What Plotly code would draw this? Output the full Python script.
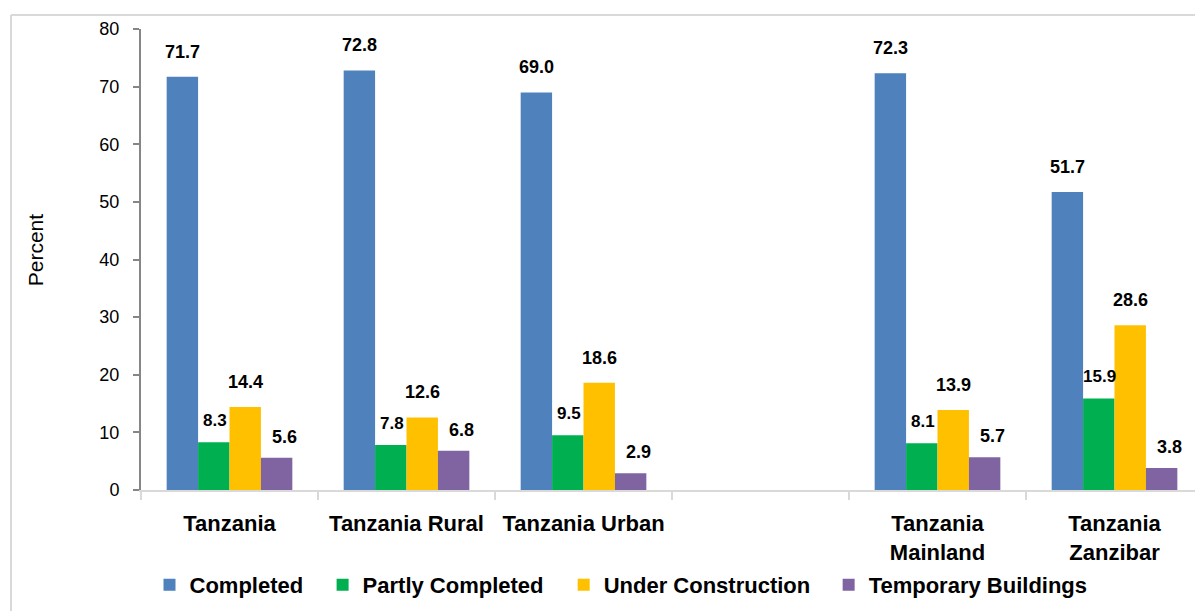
import plotly.graph_objects as go

categories = ["Tanzania", "Tanzania Rural", "Tanzania Urban", " ", "Tanzania<br>Mainland", "Tanzania<br>Zanzibar"]
series_names = ["Completed", "Partly Completed", "Under Construction", "Temporary Buildings"]
completed = [71.7, 72.8, 69.0, None, 72.3, 51.7]
partly_completed = [8.3, 7.8, 9.5, None, 8.1, 15.9]
under_construction = [14.4, 12.6, 18.6, None, 13.9, 28.6]
temporary_buildings = [5.6, 6.8, 2.9, None, 5.7, 3.8]

values = [completed, partly_completed, under_construction, temporary_buildings]
colors = ["#4F81BD", "#00B050", "#FFC000", "#8064A2"]
label_sizes = [18, 17, 18, 18]
label_shift = [25, 22, 25, 21]
label_xshift = [0, 1, 0, 8]
legend_x = [0.0080, 0.1710, 0.3980, 0.6475]

FONT = "Liberation Sans, Arial, sans-serif"
BARGAP = 0.29

fig = go.Figure()
legend_ids = ["legend", "legend2", "legend3", "legend4"]
for name, vals, col, lid in zip(series_names, values, colors, legend_ids):
    fig.add_trace(go.Bar(x=categories, y=vals, name="<b>" + name + "</b>", legend=lid,
                         marker=dict(color=col, line=dict(width=0))))

# data labels
n = len(series_names)
w = (1 - BARGAP) / n
annotations = []
for s, vals in enumerate(values):
    off = (s - (n - 1) / 2) * w
    for i, v in enumerate(vals):
        if v is None:
            continue
        annotations.append(dict(
            x=i + off, y=v, xref="x", yref="y", text=f"<b>{v:.1f}</b>", showarrow=False,
            yanchor="middle", xanchor="center", yshift=label_shift[s], xshift=label_xshift[s],
            font=dict(family=FONT, size=label_sizes[s], color="black")))

annotations.append(dict(x=-0.0998, y=0.52, xref="paper", yref="paper", text="Percent",
                        textangle=-90, showarrow=False, xanchor="center", yanchor="middle",
                        font=dict(family=FONT, size=21, color="black")))

legend_layout = {}
for lid, lx in zip(legend_ids, legend_x):
    legend_layout[lid] = dict(orientation="h", x=lx, y=-0.206, xanchor="left", yanchor="middle",
                              bgcolor="rgba(0,0,0,0)",
                              font=dict(family=FONT, size=22, color="black"))

# page body has an 8px margin: figure is offset by 8px from the window's top-left
fig.update_layout(
    width=1195, height=603,
    margin=dict(l=133, r=0, t=21, b=121),
    paper_bgcolor="white", plot_bgcolor="white",
    barmode="group", bargap=BARGAP, bargroupgap=0,
    font=dict(family=FONT, color="black"),
    showlegend=True,
    annotations=annotations,
    shapes=[
        dict(type="line", xref="paper", yref="paper", x0=-0.1224, x1=-0.1224, y0=1.0304, y1=-0.4,
             line=dict(color="#d9d9d9", width=2)),
        dict(type="line", xref="paper", yref="paper", x0=-0.1224, x1=1.1, y0=1.0304, y1=1.0304,
             line=dict(color="#d9d9d9", width=2)),
    ],
    **legend_layout,
)
fig.update_xaxes(type="category", tickson="boundaries", ticks="outside", ticklen=8, tickwidth=2,
                 tickcolor="#d9d9d9", showline=True, linecolor="#d9d9d9", linewidth=2,
                 showgrid=False, ticklabelstandoff=13, tickangle=0, automargin=False,
                 tickfont=dict(family=FONT, size=22, color="black"),
                 tickvals=categories, ticktext=["<b>" + c + "</b>" for c in categories],
                 range=[-0.5, 5.5])
fig.update_yaxes(range=[0, 80], dtick=10, ticks="outside", ticklen=6, tickwidth=2,
                 tickcolor="#868686", showline=True, linecolor="#868686", linewidth=2,
                 showgrid=False, zeroline=False, ticklabelstandoff=10, automargin=False,
                 tickfont=dict(family=FONT, size=18, color="black"))

fig.write_html("out.html")
